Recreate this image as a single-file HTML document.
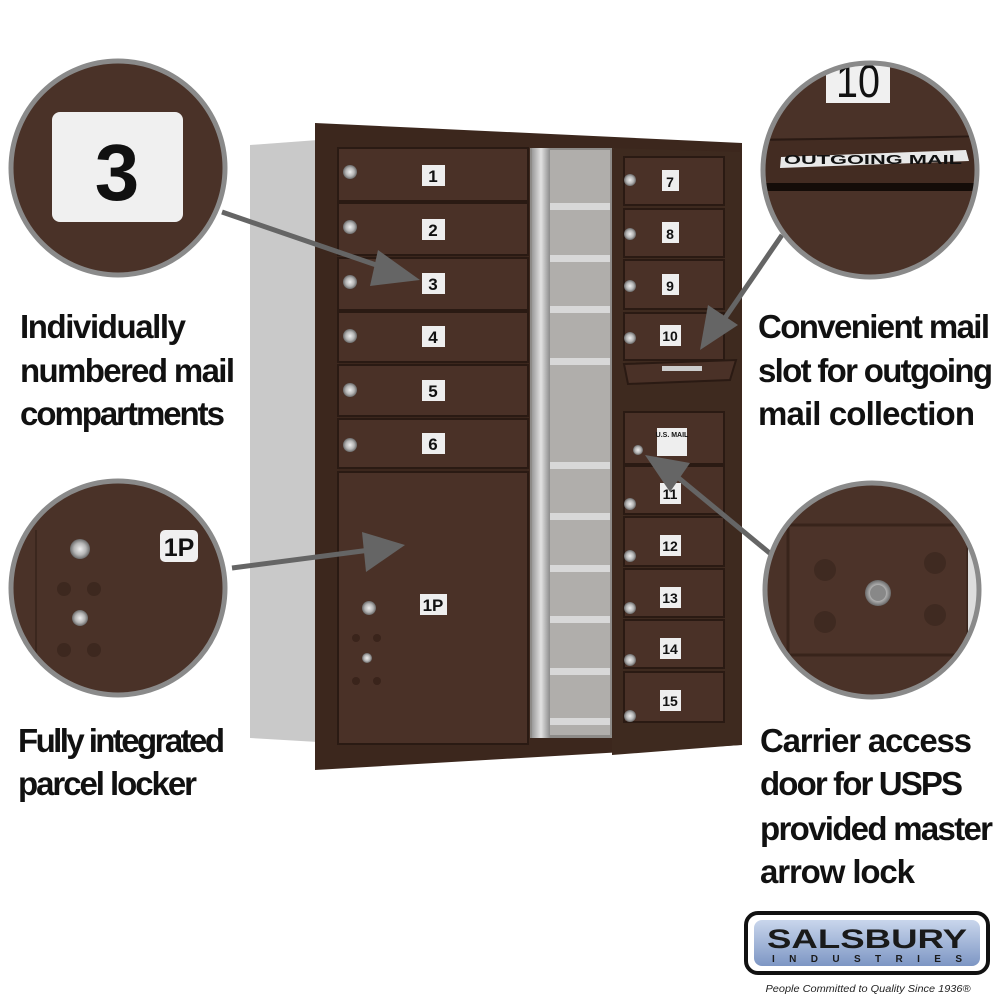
<!DOCTYPE html>
<html><head><meta charset="utf-8"><style>
html,body{margin:0;padding:0;background:#fff;width:1000px;height:1000px;overflow:hidden}
svg{display:block}
</style></head><body>
<svg width="1000" height="1000" viewBox="0 0 1000 1000" xmlns="http://www.w3.org/2000/svg" font-family="Liberation Sans, sans-serif">
<defs>
<linearGradient id="blue" x1="0" y1="0" x2="0" y2="1"><stop offset="0" stop-color="#c9d6ec"/><stop offset="1" stop-color="#7d96c4"/></linearGradient>
<linearGradient id="sil" x1="0" y1="0" x2="1" y2="0"><stop offset="0" stop-color="#9a9a9a"/><stop offset=".5" stop-color="#e2e2e2"/><stop offset="1" stop-color="#8c8c8c"/></linearGradient>
<radialGradient id="lock"><stop offset="0" stop-color="#eee"/><stop offset=".6" stop-color="#b5b5b5"/><stop offset="1" stop-color="#6a6a6a"/></radialGradient>
<clipPath id="c1"><circle cx="118" cy="168" r="106"/></clipPath>
<clipPath id="c2"><circle cx="118" cy="588" r="106"/></clipPath>
<clipPath id="c3"><circle cx="870" cy="170" r="106"/></clipPath>
<clipPath id="c4"><circle cx="872" cy="590" r="106"/></clipPath>
</defs>

<!-- side panel -->
<polygon points="250,145 318,140 318,742 250,738" fill="#c9c9c9"/>
<!-- main frame -->
<polygon points="315,123 742,143 742,745 315,770" fill="#3c271d"/>
<!-- center interior -->
<rect x="530" y="148" width="84" height="590" fill="#8d8b88"/>
<rect x="548" y="150" width="62" height="585" fill="#b0aeab"/>
<rect x="532" y="148" width="18" height="590" fill="url(#sil)"/>
<g fill="#d8d8d8">
<rect x="550" y="203" width="60" height="7"/><rect x="550" y="255" width="60" height="7"/><rect x="550" y="306" width="60" height="7"/><rect x="550" y="358" width="60" height="7"/><rect x="550" y="462" width="60" height="7"/><rect x="550" y="513" width="60" height="7"/><rect x="550" y="565" width="60" height="7"/><rect x="550" y="616" width="60" height="7"/><rect x="550" y="668" width="60" height="7"/><rect x="550" y="718" width="60" height="7"/>
</g>

<!-- left doors -->
<g fill="#4a3127" stroke="#2a1a13" stroke-width="2">
<rect x="338" y="148" width="190" height="53"/>
<rect x="338" y="203" width="190" height="52"/>
<rect x="338" y="258" width="190" height="52"/>
<rect x="338" y="312" width="190" height="50"/>
<rect x="338" y="365" width="190" height="51"/>
<rect x="338" y="419" width="190" height="49"/>
<rect x="338" y="472" width="190" height="272"/>
</g>
<g fill="url(#lock)">
<circle cx="350" cy="172" r="7"/><circle cx="350" cy="227" r="7"/><circle cx="350" cy="282" r="7"/><circle cx="350" cy="336" r="7"/><circle cx="350" cy="390" r="7"/><circle cx="350" cy="445" r="7"/><circle cx="369" cy="608" r="7"/><circle cx="367" cy="658" r="5"/>
</g>
<g fill="#3a241b"><circle cx="356" cy="638" r="4"/><circle cx="377" cy="638" r="4"/><circle cx="356" cy="681" r="4"/><circle cx="377" cy="681" r="4"/></g>
<g fill="#eee"><rect x="422" y="165" width="23" height="21"/><rect x="422" y="219" width="23" height="21"/><rect x="422" y="273" width="23" height="21"/><rect x="422" y="326" width="23" height="21"/><rect x="422" y="380" width="23" height="21"/><rect x="422" y="433" width="23" height="21"/><rect x="420" y="594" width="27" height="21"/></g>
<g font-size="17" font-weight="bold" fill="#111" text-anchor="middle">
<text x="433" y="182">1</text><text x="433" y="236">2</text><text x="433" y="290">3</text><text x="433" y="343">4</text><text x="433" y="397">5</text><text x="433" y="450">6</text><text x="433" y="611">1P</text>
</g>

<!-- right open door -->
<polygon points="612,148 740,152 740,745 612,755" fill="#3e2a1f"/>
<g fill="#4a3127" stroke="#2a1a13" stroke-width="2">
<rect x="624" y="157" width="100" height="48"/>
<rect x="624" y="209" width="100" height="48"/>
<rect x="624" y="260" width="100" height="49"/>
<rect x="624" y="313" width="100" height="47"/>
<polygon points="624,364 736,360 730,380 628,384"/>
<rect x="624" y="412" width="100" height="52"/>
<rect x="624" y="466" width="100" height="48"/>
<rect x="624" y="517" width="100" height="49"/>
<rect x="624" y="569" width="100" height="48"/>
<rect x="624" y="620" width="100" height="48"/>
<rect x="624" y="672" width="100" height="50"/>
</g>
<rect x="662" y="366" width="40" height="5" fill="#ccc"/>
<g fill="url(#lock)">
<circle cx="630" cy="180" r="6"/><circle cx="630" cy="234" r="6"/><circle cx="630" cy="286" r="6"/><circle cx="630" cy="338" r="6"/><circle cx="638" cy="450" r="5"/><circle cx="630" cy="504" r="6"/><circle cx="630" cy="556" r="6"/><circle cx="630" cy="608" r="6"/><circle cx="630" cy="660" r="6"/><circle cx="630" cy="716" r="6"/>
</g>
<rect x="657" y="428" width="30" height="28" fill="#eee"/>
<text x="672" y="437" font-size="7" font-weight="bold" text-anchor="middle" fill="#111">U.S. MAIL</text>
<g fill="#eee"><rect x="662" y="170" width="17" height="21"/><rect x="662" y="222" width="17" height="21"/><rect x="662" y="274" width="17" height="21"/><rect x="660" y="325" width="21" height="21"/><rect x="660" y="483" width="21" height="21"/><rect x="660" y="535" width="21" height="21"/><rect x="660" y="587" width="21" height="21"/><rect x="660" y="638" width="21" height="21"/><rect x="660" y="690" width="21" height="21"/></g>
<g font-size="14" font-weight="bold" fill="#111" text-anchor="middle">
<text x="670" y="187">7</text><text x="670" y="239">8</text><text x="670" y="291">9</text><text x="670" y="341">10</text><text x="670" y="499">11</text><text x="670" y="551">12</text><text x="670" y="603">13</text><text x="670" y="654">14</text><text x="670" y="706">15</text>
</g>

<!-- arrows -->
<g stroke="#656565" stroke-width="5" fill="#656565">
<line x1="222" y1="212" x2="385" y2="268"/>
<polygon points="420,280 378,250 370,286" stroke="none"/>
<line x1="232" y1="568" x2="370" y2="550"/>
<polygon points="405,545 362,532 366,572" stroke="none"/>
<line x1="782" y1="235" x2="725" y2="318"/>
<polygon points="700,350 708,305 738,325" stroke="none"/>
<line x1="772" y1="555" x2="675" y2="475"/>
<polygon points="645,455 690,463 670,492" stroke="none"/>
</g>

<!-- circle 1 -->
<g clip-path="url(#c1)"><rect x="0" y="50" width="240" height="240" fill="#4a3228"/>
<rect x="52" y="112" width="131" height="110" rx="8" fill="#f0f0f0"/>
<text x="117" y="200" font-size="80" font-weight="bold" text-anchor="middle" fill="#111">3</text></g>
<circle cx="118" cy="168" r="107" fill="none" stroke="#8a8a8a" stroke-width="5"/>

<!-- circle 2 -->
<g clip-path="url(#c2)"><rect x="0" y="470" width="240" height="240" fill="#4a3228"/>
<line x1="36" y1="530" x2="36" y2="700" stroke="#3b271e" stroke-width="2"/>
<circle cx="80" cy="549" r="10" fill="url(#lock)"/><circle cx="80" cy="618" r="8" fill="url(#lock)"/>
<g fill="#3d281f"><circle cx="64" cy="589" r="7"/><circle cx="94" cy="589" r="7"/><circle cx="64" cy="650" r="7"/><circle cx="94" cy="650" r="7"/></g>
<rect x="160" y="530" width="38" height="32" rx="5" fill="#f0f0f0"/>
<text x="179" y="556" font-size="25" font-weight="bold" text-anchor="middle" fill="#111">1P</text></g>
<circle cx="118" cy="588" r="107" fill="none" stroke="#8a8a8a" stroke-width="5"/>

<!-- circle 3 -->
<g clip-path="url(#c3)"><rect x="760" y="60" width="240" height="240" fill="#4a3228"/>
<rect x="826" y="55" width="64" height="48" fill="#f0f0f0"/>
<text x="858" y="97" font-size="46" text-anchor="middle" fill="#111" textLength="44" lengthAdjust="spacingAndGlyphs">10</text>
<rect x="760" y="138" width="240" height="45" fill="#432c22"/>
<line x1="760" y1="140" x2="1000" y2="136" stroke="#2a1a14" stroke-width="2"/>
<rect x="760" y="183" width="240" height="8" fill="#140c08"/>
<polygon points="781,157 966,150 969,161 780,168" fill="#e8e8e8"/>
<text x="873" y="164" font-size="13" font-weight="bold" text-anchor="middle" fill="#111" textLength="178" lengthAdjust="spacingAndGlyphs">OUTGOING MAIL</text></g>
<circle cx="870" cy="170" r="107" fill="none" stroke="#8a8a8a" stroke-width="5"/>

<!-- circle 4 -->
<g clip-path="url(#c4)"><rect x="760" y="480" width="240" height="240" fill="#4a3228"/>
<rect x="788" y="525" width="180" height="130" fill="#4c3329" stroke="#38241b" stroke-width="3"/>
<rect x="968" y="545" width="20" height="95" fill="#ddd"/>
<g fill="#3f2a21"><circle cx="825" cy="570" r="11"/><circle cx="935" cy="563" r="11"/><circle cx="825" cy="622" r="11"/><circle cx="935" cy="615" r="11"/></g>
<circle cx="878" cy="593" r="13" fill="url(#lock)"/><circle cx="878" cy="593" r="8" fill="#888"/></g>
<circle cx="872" cy="590" r="107" fill="none" stroke="#8a8a8a" stroke-width="5"/>

<!-- labels -->
<g font-size="33" font-weight="bold" fill="#111" lengthAdjust="spacingAndGlyphs">
<text x="20" y="338" textLength="166">Individually</text>
<text x="20" y="382" textLength="215">numbered mail</text>
<text x="20" y="425" textLength="205">compartments</text>
<text x="18" y="752" textLength="207">Fully integrated</text>
<text x="18" y="795" textLength="179">parcel locker</text>
<text x="758" y="338" textLength="232">Convenient mail</text>
<text x="758" y="382" textLength="235">slot for outgoing</text>
<text x="758" y="425" textLength="217">mail collection</text>
<text x="760" y="752" textLength="212">Carrier access</text>
<text x="760" y="795" textLength="203">door for USPS</text>
<text x="760" y="840" textLength="233">provided master</text>
<text x="760" y="883" textLength="155">arrow lock</text>
</g>

<!-- logo -->
<rect x="746" y="913" width="242" height="60" rx="12" fill="#fff" stroke="#111" stroke-width="4"/>
<rect x="754" y="920" width="226" height="46" rx="8" fill="url(#blue)"/>
<text x="867" y="948" font-size="27" font-weight="bold" text-anchor="middle" fill="#1a1a1a" textLength="200" lengthAdjust="spacingAndGlyphs">SALSBURY</text>
<text x="867" y="962" font-size="10" font-weight="bold" text-anchor="middle" fill="#1a1a1a" textLength="190" lengthAdjust="spacing">INDUSTRIES</text>
<text x="868" y="992" font-size="10.5" font-style="italic" text-anchor="middle" fill="#222" textLength="205" lengthAdjust="spacingAndGlyphs">People Committed to Quality Since 1936®</text>
</svg>
</body></html>
